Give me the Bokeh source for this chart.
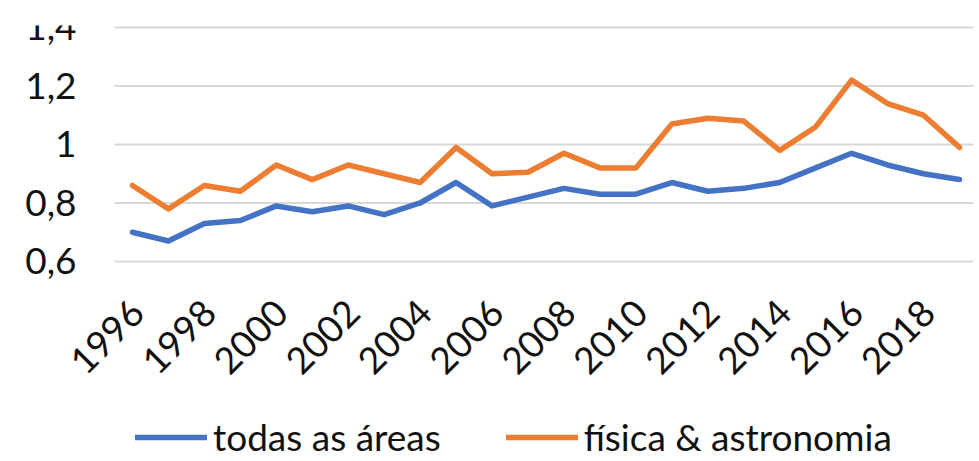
from bokeh.plotting import figure
from bokeh.models import Range1d, Legend, LegendItem, ColumnDataSource
from bokeh.core.properties import value
from bokeh.embed import file_html
from bokeh.resources import INLINE
import math

years = list(range(1996, 2020))
todas = [0.70, 0.67, 0.73, 0.74, 0.79, 0.77, 0.79, 0.76, 0.80, 0.87, 0.79, 0.82,
         0.85, 0.83, 0.83, 0.87, 0.84, 0.85, 0.87, 0.92, 0.97, 0.93, 0.90, 0.88]
fisica = [0.86, 0.78, 0.86, 0.84, 0.93, 0.88, 0.93, 0.90, 0.87, 0.99, 0.90, 0.905,
          0.97, 0.92, 0.92, 1.07, 1.09, 1.08, 0.98, 1.06, 1.22, 1.14, 1.10, 0.99]
x_ticks = list(range(1996, 2019, 2))
x_tick_labels = [str(y) for y in x_ticks]
y_ticks = [0.6, 0.8, 1.0, 1.2, 1.4]
y_tick_labels = ["0,6", "0,8", "1", "1,2", "1,4"]
labels = ["todas as áreas", "física & astronomia"]
colors = ["#4472C4", "#ED7D31"]

FONT = "Lato"
FS = "37px"
TXT = "#111111"

p = figure(width=975, height=461, output_backend="svg", toolbar_location=None,
           x_axis_location=None, y_axis_location=None,
           x_range=Range1d(1992.886, 2019.39), y_range=Range1d(-0.0838, 1.4068))
p.min_border_left = 20
p.min_border_right = 2
p.min_border_top = 25
p.min_border_bottom = 0
p.outline_line_color = None
p.background_fill_color = "white"
p.border_fill_color = "white"

for g in p.xgrid:
    g.grid_line_color = None
for g in p.ygrid:
    g.grid_line_color = None

x_start = years[0] - 0.5
x_end = years[-1] + 0.5

# horizontal gridlines over the plotting area
grid_src = ColumnDataSource(dict(x0=[x_start] * len(y_ticks), x1=[x_end] * len(y_ticks),
                                 y=y_ticks))
p.segment(x0="x0", y0="y", x1="x1", y1="y", source=grid_src,
          line_color="#D9D9D9", line_width=2)

# value labels on the left
ylab_src = ColumnDataSource(dict(x=[x_start] * len(y_ticks), y=y_ticks, t=y_tick_labels))
p.text(x="x", y="y", text="t", source=ylab_src, text_align="right",
       text_baseline="middle", x_offset=-38,
       text_font=value(FONT), text_font_size=FS, text_color=TXT)

# category (year) labels along the 0.6 baseline, rotated 45 degrees
lab_src = ColumnDataSource(dict(x=x_ticks, y=[y_ticks[0]] * len(x_ticks), t=x_tick_labels))
p.text(x="x", y="y", text="t", source=lab_src, angle=math.pi / 4,
       text_align="right", text_baseline="middle", x_offset=5, y_offset=45,
       text_font=value(FONT), text_font_size=FS, text_color=TXT)

r1 = p.line(years, todas, line_color=colors[0], line_width=5.5, line_join="round", line_cap="round")
r2 = p.line(years, fisica, line_color=colors[1], line_width=5.5, line_join="round", line_cap="round")

legend = Legend(items=[LegendItem(label=labels[0], renderers=[r1]),
                       LegendItem(label=labels[1], renderers=[r2])],
                orientation="horizontal", location=(115, 2))
legend.label_text_font = FONT
legend.label_text_font_size = FS
legend.label_text_color = TXT
legend.glyph_width = 72
legend.glyph_height = 30
legend.spacing = 65
legend.label_standoff = 6
legend.border_line_color = None
legend.background_fill_alpha = 0
legend.margin = 0
legend.padding = 0
p.add_layout(legend, "center")

open("out.html", "w").write(file_html(p, INLINE))
